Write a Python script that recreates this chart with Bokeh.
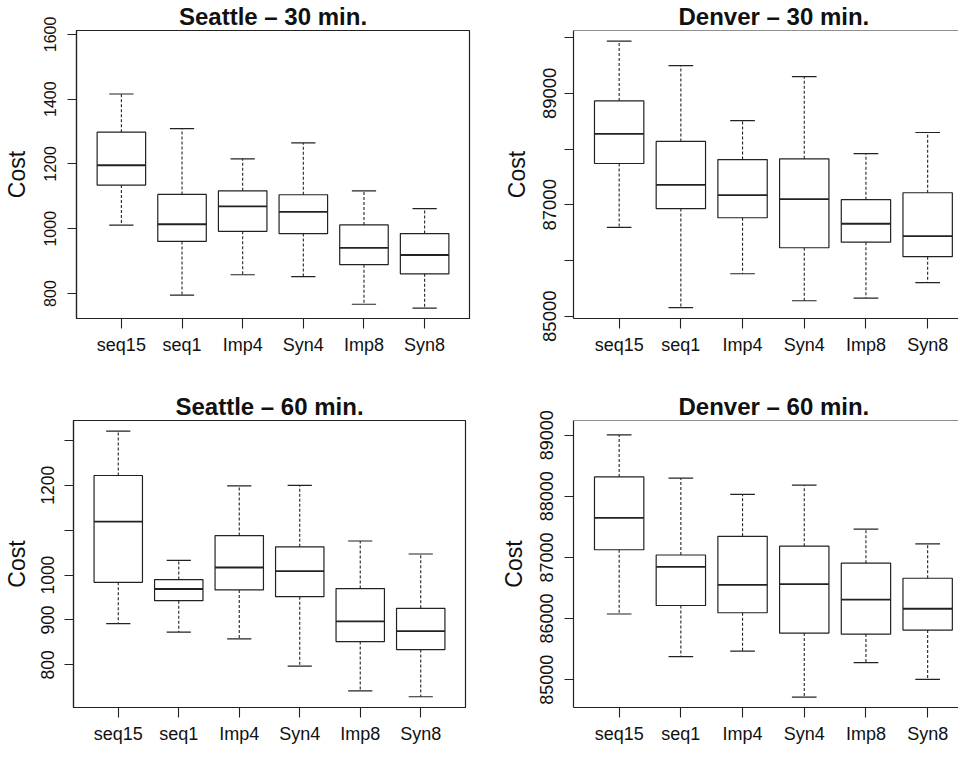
from bokeh.plotting import figure
from bokeh.layouts import column, row
from bokeh.models import ColumnDataSource, FixedTicker, Span, Range1d
from bokeh.embed import file_html
from bokeh.resources import INLINE

categories = ["seq15", "seq1", "Imp4", "Syn4", "Imp8", "Syn8"]

sea30_low = [1011, 795, 858, 852, 767, 755]
sea30_q1 = [1135, 961, 992, 985, 889, 861]
sea30_med = [1196, 1014, 1069, 1052, 941, 919]
sea30_q3 = [1298, 1106, 1117, 1105, 1012, 985]
sea30_high = [1416, 1309, 1216, 1265, 1117, 1062]

den30_low = [86595, 85154, 85762, 85278, 85325, 85603]
den30_q1 = [87741, 86932, 86767, 86229, 86329, 86069]
den30_med = [88273, 87357, 87174, 87103, 86660, 86436]
den30_q3 = [88864, 88137, 87812, 87824, 87091, 87216]
den30_high = [89939, 89496, 88509, 89301, 87918, 88297]

sea60_low = [892, 873, 858, 797, 742, 729]
sea60_q1 = [984, 943, 967, 952, 852, 834]
sea60_med = [1119, 969, 1017, 1009, 897, 875]
sea60_q3 = [1222, 990, 1088, 1063, 970, 926]
sea60_high = [1321, 1033, 1199, 1200, 1076, 1047]

den60_low = [86074, 85376, 85467, 84715, 85279, 85005]
den60_q1 = [87126, 86213, 86095, 85762, 85746, 85811]
den60_med = [87647, 86847, 86552, 86562, 86310, 86160]
den60_q3 = [88318, 87040, 87346, 87185, 86906, 86659]
den60_high = [89005, 88297, 88033, 88184, 87464, 87223]

sea30_ticks = [800, 1000, 1200, 1400, 1600]
sea30_labels = ["800", "1000", "1200", "1400", "1600"]
den30_ticks = [85000, 86000, 87000, 88000, 89000, 90000]
den30_labels = ["85000", "", "87000", "", "89000", ""]
sea60_ticks = [800, 900, 1000, 1100, 1200, 1300]
sea60_labels = ["800", "900", "1000", "", "1200", ""]
den60_ticks = [85000, 86000, 87000, 88000, 89000]
den60_labels = ["85000", "86000", "87000", "88000", "89000"]

LINE = "#222222"
TEXT = "#111111"
FONT = "Liberation Sans"


def make_panel(title, low, q1, med, q3, high, yticks, ylabels, yrange,
               width, height, borders, xend, right_side, ytick_size,
               ystandoff, lab_standoff):
    xs = list(range(1, len(categories) + 1))
    src = ColumnDataSource(dict(
        x=xs,
        left=[x - 0.4 for x in xs], right=[x + 0.4 for x in xs],
        cl=[x - 0.2 for x in xs], cr=[x + 0.2 for x in xs],
        low=low, q1=q1, med=med, q3=q3, high=high))
    p = figure(width=width, height=height, output_backend="svg",
               toolbar_location=None, tools="",
               x_range=Range1d(0.26, xend), y_range=Range1d(*yrange),
               min_border_left=borders[0], min_border_right=borders[1],
               min_border_top=borders[2], min_border_bottom=borders[3])
    p.background_fill_color = "white"
    p.border_fill_color = "white"
    p.xgrid.visible = False
    p.ygrid.visible = False

    p.title.text = title
    p.title.text_font = FONT
    p.title.text_font_size = "24px"
    p.title.text_font_style = "bold"
    p.title.text_color = TEXT
    p.title.standoff = 1
    if right_side:
        p.title.align = "left"
        p.title.offset = 105
        p.outline_line_color = None
        p.add_layout(Span(location=yrange[1], dimension="width",
                          line_color=LINE, line_width=1.2))
    else:
        p.title.align = "center"
        p.outline_line_color = LINE
        p.outline_line_width = 1.2
        p.outline_line_alpha = 1.0

    p.quad(left="left", right="right", bottom="q1", top="q3", source=src,
           fill_color="white", line_color=LINE, line_width=1.2)
    p.segment(x0="left", x1="right", y0="med", y1="med", source=src,
              line_color=LINE, line_width=1.8)
    p.segment(x0="x", x1="x", y0="q3", y1="high", source=src,
              line_color=LINE, line_width=1.1, line_dash="3 2")
    p.segment(x0="x", x1="x", y0="q1", y1="low", source=src,
              line_color=LINE, line_width=1.1, line_dash="3 2")
    p.segment(x0="cl", x1="cr", y0="high", y1="high", source=src,
              line_color=LINE, line_width=1.2)
    p.segment(x0="cl", x1="cr", y0="low", y1="low", source=src,
              line_color=LINE, line_width=1.2)

    xa = p.xaxis[0]
    xa.ticker = FixedTicker(ticks=xs)
    xa.major_label_overrides = {x: c for x, c in zip(xs, categories)}
    xa.minor_tick_line_color = None
    xa.major_tick_in = 0
    xa.major_tick_out = 10
    xa.major_tick_line_color = LINE
    xa.major_tick_line_width = 1.1
    xa.axis_line_color = LINE
    xa.axis_line_width = 1.2
    xa.major_label_text_font = FONT
    xa.major_label_text_font_size = "18px"
    xa.major_label_text_color = TEXT
    xa.major_label_standoff = 6

    ya = p.yaxis[0]
    ya.ticker = FixedTicker(ticks=yticks)
    ya.major_label_overrides = {t: l for t, l in zip(yticks, ylabels)}
    ya.minor_tick_line_color = None
    ya.major_tick_in = 0
    ya.major_tick_out = 9
    ya.major_tick_line_color = LINE
    ya.major_tick_line_width = 1.1
    ya.axis_line_color = LINE
    ya.axis_line_width = 1.2
    ya.major_label_orientation = "vertical"
    ya.major_label_text_font = FONT
    ya.major_label_text_font_size = ytick_size
    ya.major_label_text_color = TEXT
    ya.major_label_standoff = ystandoff
    ya.axis_label = "Cost"
    ya.axis_label_text_font = FONT
    ya.axis_label_text_font_size = "23px"
    ya.axis_label_text_font_style = "normal"
    ya.axis_label_text_color = TEXT
    ya.axis_label_standoff = lab_standoff
    return p


p1 = make_panel("Seattle \u2013 30 min.", sea30_low, sea30_q1, sea30_med, sea30_q3, sea30_high,
                sea30_ticks, sea30_labels, (723, 1612), 474, 368, (69, 5, 26, 50), 6.74, False,
                "16px", 11, 12)
p2 = make_panel("Denver \u2013 30 min.", den30_low, den30_q1, den30_med, den30_q3, den30_high,
                den30_ticks, den30_labels, (84959, 90128), 484, 368, (99, 0, 26, 50), 6.50, True,
                "18.5px", 8, 11)
p3 = make_panel("Seattle \u2013 60 min.", sea60_low, sea60_q1, sea60_med, sea60_q3, sea60_high,
                sea60_ticks, sea60_labels, (705, 1344.5), 474, 378, (65, 9, 52, 37), 6.74, False,
                "17.5px", 10, 9)
p4 = make_panel("Denver \u2013 60 min.", den60_low, den60_q1, den60_med, den60_q3, den60_high,
                den60_ticks, den60_labels, (84544, 89241), 484, 378, (99, 0, 52, 37), 6.50, True,
                "18px", 11, 11)

layout = column(row(p1, p2), row(p3, p4))
open("out.html", "w").write(file_html(layout, INLINE))
